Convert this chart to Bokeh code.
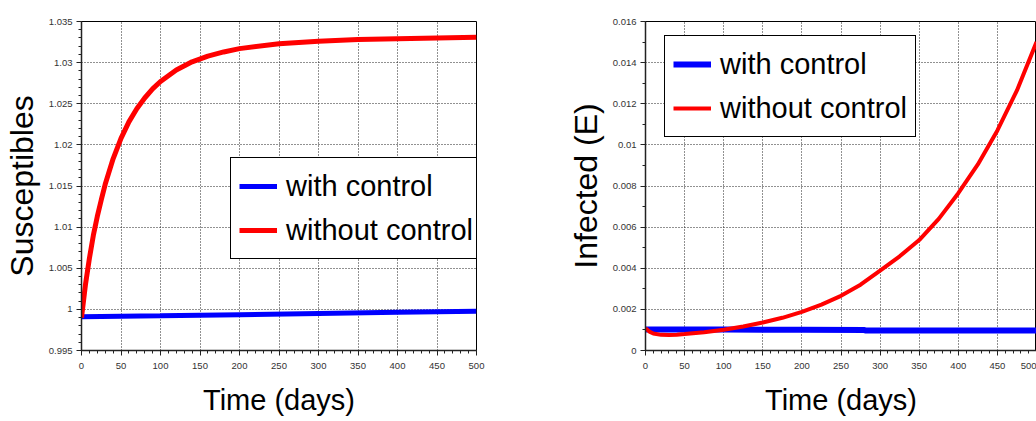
from bokeh.plotting import figure
from bokeh.layouts import row
from bokeh.models import FixedTicker, CustomJSTickFormatter, Range1d
from bokeh.embed import file_html
from bokeh.resources import INLINE

# ---------------- data ----------------
series_names = ["with control", "without control"]

# Left panel: Susceptibles
t_s_with = [0, 100, 200, 300, 400, 500]
s_with = [0.99910, 0.99922, 0.99936, 0.99950, 0.99964, 0.99978]

t_s_without = [0, 5, 10, 15, 20, 25, 30, 40, 50, 60, 70, 80, 90, 100, 120, 140,
               160, 180, 200, 250, 300, 350, 400, 450, 500]
s_without = [0.9990, 1.0030, 1.0062, 1.0090, 1.0113, 1.0133, 1.0152, 1.0183, 1.0208,
             1.0228, 1.0244, 1.0257, 1.0268, 1.0277, 1.0291, 1.0301, 1.0308, 1.0313,
             1.0317, 1.0323, 1.0326, 1.0328, 1.0329, 1.0330, 1.0331]

# Right panel: Infected (E)
t_e_with = [0, 100, 200, 280, 281, 400, 500]
e_with = [0.00102, 0.00102, 0.00101, 0.00100, 0.00097, 0.00097, 0.00097]

t_e_without = [0, 5, 10, 20, 30, 40, 50, 75, 100, 125, 150, 175, 200, 225, 250, 275,
               300, 325, 350, 375, 400, 425, 450, 475, 500]
e_without = [0.00108, 0.00092, 0.00083, 0.00076, 0.00075, 0.00077, 0.00080, 0.00089,
             0.00101, 0.00117, 0.00136, 0.00159, 0.00188, 0.00223, 0.00266, 0.00320,
             0.00389, 0.00458, 0.00537, 0.00640, 0.00765, 0.00905, 0.01070, 0.01265,
             0.01500]

# ticks
x_ticks = [0, 50, 100, 150, 200, 250, 300, 350, 400, 450, 500]
x_labels = ["0", "50", "100", "150", "200", "250", "300", "350", "400", "450", "500"]
x_minor = list(range(0, 501, 10))

s_ticks = [0.995, 1.0, 1.005, 1.01, 1.015, 1.02, 1.025, 1.03, 1.035]
s_labels = ["0.995", "1", "1.005", "1.01", "1.015", "1.02", "1.025", "1.03", "1.035"]
s_minor = [0.995 + 0.001 * i for i in range(41)]

e_ticks = [0.0, 0.002, 0.004, 0.006, 0.008, 0.01, 0.012, 0.014, 0.016]
e_labels = ["0", "0.002", "0.004", "0.006", "0.008", "0.01", "0.012", "0.014", "0.016"]
e_minor = [0.001 * i for i in range(17)]

x_title = "Time (days)"
y_title_left = "Susceptibles"
y_title_right = "Infected (E)"

BLUE = "#0000ff"
RED = "#ff0000"
FONT = "Liberation Sans"


def fmt(tv, tl):
    return CustomJSTickFormatter(args=dict(tv=tv, tl=tl), code="""
        for (let i = 0; i < tv.length; i++) {
            if (Math.abs(tv[i] - tick) < 1e-9) return tl[i];
        }
        return "";
    """)


def style(p, yt, yl, ym, leg_loc):
    p.xaxis.ticker = FixedTicker(ticks=x_ticks, minor_ticks=x_minor)
    p.xaxis.formatter = fmt(x_ticks, x_labels)
    p.yaxis.ticker = FixedTicker(ticks=yt, minor_ticks=ym)
    p.yaxis.formatter = fmt(yt, yl)
    for ax in (p.xaxis[0], p.yaxis[0]):
        ax.axis_line_color = "#222222"
        ax.axis_line_width = 1.5
        ax.major_tick_line_color = "#222222"
        ax.minor_tick_line_color = "#222222"
        ax.major_tick_out = 5
        ax.major_tick_in = 0
        ax.minor_tick_out = 3
        ax.minor_tick_in = 0
        ax.major_label_text_font = FONT
        ax.major_label_text_font_size = "9.5px"
        ax.major_label_text_color = "#333333"
        ax.axis_label_text_font = FONT
        ax.axis_label_text_font_style = "normal"
        ax.axis_label_text_color = "#000000"
    p.xaxis.axis_label_text_font_size = "29px"
    p.yaxis.axis_label_text_font_size = "32px"
    p.xaxis.major_label_standoff = 7
    p.yaxis.major_label_standoff = 4
    p.xaxis.axis_label_standoff = 12
    p.yaxis.axis_label_standoff = 6
    for g in (p.xgrid[0], p.ygrid[0]):
        g.grid_line_color = "#222222"
        g.grid_line_alpha = 1.0
        g.grid_line_dash = "1 2"
        g.grid_line_width = 1
    p.outline_line_color = "#000000"
    p.outline_line_alpha = 1.0
    p.outline_line_width = 1
    p.background_fill_color = "white"
    p.border_fill_color = "white"
    lg = p.legend[0]
    lg.location = leg_loc
    lg.border_line_color = "#000000"
    lg.border_line_alpha = 1.0
    lg.border_line_width = 1
    lg.background_fill_alpha = 1.0
    lg.label_text_font = FONT
    lg.label_text_font_size = "29px"
    lg.label_text_color = "#000000"
    lg.glyph_width = 38
    lg.glyph_height = 40
    lg.label_height = 40
    lg.label_standoff = 9
    lg.spacing = 4
    lg.padding = 8
    lg.margin = 0


# ---------------- left figure ----------------
p1 = figure(width=540, height=421, output_backend="svg", toolbar_location=None,
            x_range=Range1d(0, 500), y_range=Range1d(0.995, 1.035),
            x_axis_label=x_title, y_axis_label=y_title_left,
            min_border_left=80, min_border_right=64, min_border_top=14,
            min_border_bottom=71)
p1.line(t_s_with, s_with, line_color=BLUE, line_width=5, legend_label=series_names[0])
p1.line(t_s_without, s_without, line_color=RED, line_width=5, legend_label=series_names[1])
style(p1, s_ticks, s_labels, s_minor, (149, 91))

# ---------------- right figure ----------------
p2 = figure(width=496, height=421, output_backend="svg", toolbar_location=None,
            x_range=Range1d(0, 500), y_range=Range1d(0, 0.016),
            x_axis_label=x_title, y_axis_label=y_title_right,
            min_border_left=105, min_border_right=0, min_border_top=21,
            min_border_bottom=71)
p2.line(t_e_with, e_with, line_color=BLUE, line_width=6, legend_label=series_names[0])
p2.line(t_e_without, e_without, line_color=RED, line_width=4, legend_label=series_names[1])
style(p2, e_ticks, e_labels, e_minor, (19, 213))

layout = row(p1, p2, spacing=0)
open("out.html", "w").write(file_html(layout, INLINE))
